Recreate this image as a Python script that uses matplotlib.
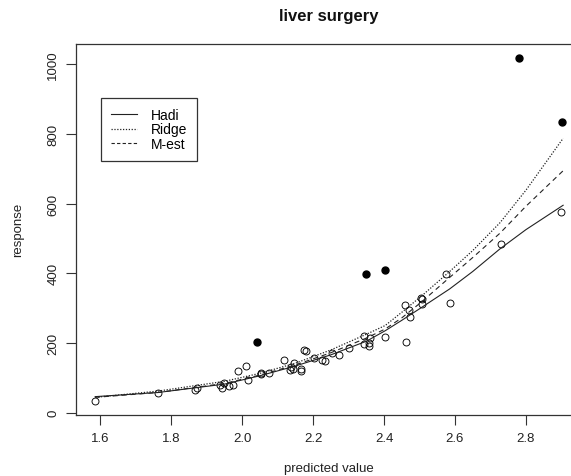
import matplotlib
matplotlib.use("Agg")
import matplotlib.pyplot as plt
from matplotlib.lines import Line2D

plt.rcParams['font.family'] = ['Liberation Sans', 'DejaVu Sans']

# observed points (open circles)
obs_x = [1.584, 1.763, 1.866, 1.871, 1.937, 1.944, 1.949, 1.962, 1.975, 1.987,
         2.010, 2.017, 2.053, 2.053, 2.076, 2.118, 2.134, 2.137, 2.144, 2.147,
         2.165, 2.166, 2.173, 2.179, 2.203, 2.224, 2.233, 2.252, 2.273, 2.302,
         2.343, 2.344, 2.357, 2.358, 2.360, 2.403, 2.460, 2.463, 2.469, 2.473,
         2.505, 2.507, 2.508, 2.574, 2.586, 2.729, 2.898]
obs_y = [34, 57, 66, 70, 80, 71, 85, 76, 79, 120,
         135, 95, 115, 110, 114, 150, 123, 130, 125, 143,
         125, 120, 180, 178, 157, 152, 147, 172, 166, 185,
         197, 219, 200, 191, 214, 217, 310, 202, 294, 275,
         329, 327, 312, 398, 314, 483, 575]

# outliers (filled)
out_x = [2.042, 2.349, 2.403, 2.781, 2.903]
out_y = [202, 397, 410, 1017, 833]

# fitted curves
fit_x = [1.585, 1.763, 1.95, 2.05, 2.15, 2.25, 2.35, 2.403, 2.45, 2.506,
         2.585, 2.65, 2.727, 2.8, 2.905]
hadi = [46, 58, 82, 106, 134, 166, 205, 235, 265, 302, 355, 405, 470, 525, 595]
ridge = [44, 62, 90, 113, 142, 180, 225, 250, 288, 335, 405, 465, 545, 638, 787]
mest = [44, 58, 84, 108, 137, 172, 214, 240, 272, 318, 388, 445, 515, 592, 694]

fig = plt.figure(figsize=(5.71, 4.77), dpi=100)
ax = fig.add_axes([0.1331, 0.1279, 0.886, 0.7788])

ax.plot(obs_x, obs_y, 'o', mfc='none', mec='black', ms=5, mew=0.65)
ax.plot(out_x, out_y, 'o', color='black', ms=5)

ax.plot(fit_x, hadi, color='#222222', lw=0.8, ls='-')
ax.plot(fit_x, ridge, color='#222222', lw=0.9, ls=(0, (1, 1.3)))
ax.plot(fit_x, mest, color='#222222', lw=0.8, ls=(0, (4.5, 3.5)))

ax.set_xlim(1.531, 2.958)
ax.set_ylim(-6.6, 1059)
ax.set_xticks([1.6, 1.8, 2.0, 2.2, 2.4, 2.6, 2.8])
ax.set_yticks([0, 200, 400, 600, 800, 1000])
ax.set_xticklabels(['1.6', '1.8', '2.0', '2.2', '2.4', '2.6', '2.8'])
for s in ax.spines.values():
    s.set_color('#333333')
    s.set_linewidth(0.9)
ax.tick_params(direction='out', length=7, width=0.8, color='#333333',
               labelsize=9.5, labelcolor='#222222', pad=5)
for lab in ax.get_yticklabels():
    lab.set_rotation(90)
    lab.set_va('center')

ax.set_xlabel('predicted value', fontsize=9.5, color='#222222', labelpad=13)
ax.set_ylabel('response', fontsize=9.5, color='#222222', labelpad=17)
fig.text(329 / 571, 1 - 17 / 477, 'liver surgery', ha='center', va='center',
         fontsize=12, fontweight='bold', color='#111111')

# legend
handles = [Line2D([], [], color='#222222', lw=0.8, ls='-'),
           Line2D([], [], color='#222222', lw=0.9, ls=(0, (1, 1.3))),
           Line2D([], [], color='#222222', lw=0.8, ls=(0, (3, 2)))]
leg = ax.legend(handles, ['Hadi', 'Ridge', 'M-est'], loc='upper left',
                bbox_to_anchor=(101 / 571, 1 - 99 / 477), bbox_transform=fig.transFigure,
                borderaxespad=0, fancybox=False, framealpha=1, fontsize=10,
                handlelength=1.9, handletextpad=1.0, labelspacing=0.05,
                borderpad=0.7)
leg.get_frame().set_edgecolor('#333333')
leg.get_frame().set_linewidth(0.9)

fig.savefig('out.png', dpi=100)
